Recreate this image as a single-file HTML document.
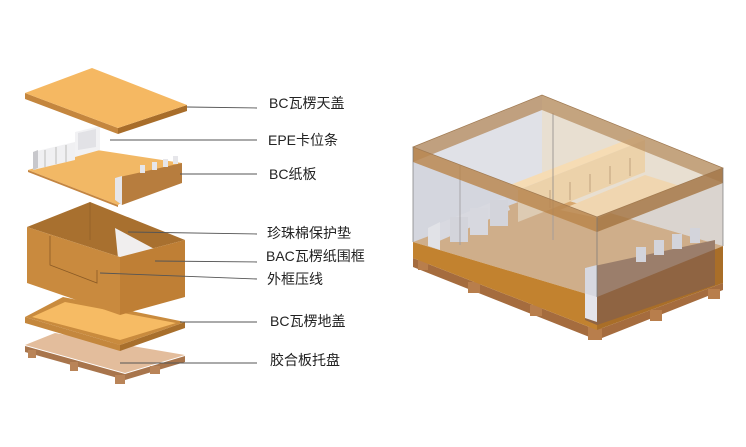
<!DOCTYPE html>
<html><head><meta charset="utf-8"><style>
html,body{margin:0;padding:0;background:#fff;}
svg{display:block;}
text{font-family:"Liberation Sans","Noto Sans CJK SC",sans-serif;font-size:14px;fill:#222;}
</style></head><body>
<svg width="746" height="447" viewBox="0 0 746 447" xmlns="http://www.w3.org/2000/svg">
<!-- LEFT: pallet -->
<polygon points="25,352 125,380 185,362 185,356 125,374 25,346" fill="#a8754c"/>
<rect x="28" y="350" width="8" height="8" fill="#b98458"/>
<rect x="70" y="362" width="8" height="9" fill="#b98458"/>
<rect x="115" y="375" width="10" height="9" fill="#b98458"/>
<rect x="150" y="366" width="10" height="8" fill="#b98458"/>
<polygon points="25,345 55,333 185,355 125,373" fill="#e3bd9c"/>
<!-- bottom tray -->
<polygon points="25,317 120,345 120,351 25,323" fill="#c4873d"/>
<polygon points="120,345 185,322 185,328 120,351" fill="#a86f2c"/>
<polygon points="25,317 63,297 185,322 120,345" fill="#c98b3e"/>
<polygon points="32,317 65,302 176,323 120,340" fill="#f6bb64"/>
<!-- box -->
<polygon points="27,227 90,202 185,240 120,257" fill="#a8702f"/>
<polygon points="115,228 160,252 118,258" fill="#f0eeee"/>
<polygon points="27,227 120,257 120,315 27,283" fill="#c98a3e"/>
<polygon points="120,257 185,240 185,297 120,315" fill="#bf7f35"/>
<polyline points="50,236 50,265 97,283 97,270" fill="none" stroke="#8a5a25" stroke-width="0.8"/>
<line x1="90" y1="202" x2="90" y2="240" stroke="#8a5a25" stroke-width="0.6"/>
<!-- board -->
<polygon points="28,170 97,150 182,163 118,205" fill="#f2b865"/>
<polygon points="28,170 118,205 118,207 28,172" fill="#c48540"/>
<!-- EPE blocks -->
<polygon points="33,152 75,142 75,160 33,170" fill="#f0f0f2"/>
<polygon points="33,152 38,150 38,168 33,170" fill="#c8c8cc"/>
<polygon points="75,132 100,126 100,150 75,157" fill="#f2f2f4"/>
<polygon points="78,133 96,129 96,147 78,150" fill="#e2e2e6"/>
<line x1="45" y1="150" x2="45" y2="167" stroke="#bbb"/><line x1="56" y1="147" x2="56" y2="164" stroke="#bbb"/><line x1="66" y1="145" x2="66" y2="162" stroke="#bbb"/>
<!-- notched wall -->
<polygon points="115,178 182,163 182,183 122,205 115,200" fill="#b77d3e"/>
<polygon points="115,178 122,176 122,205 115,200" fill="#e6e6ea"/>
<rect x="140" y="165" width="5" height="8" fill="#e6e6ea"/><rect x="152" y="162" width="5" height="8" fill="#e6e6ea"/><rect x="163" y="159" width="5" height="8" fill="#e6e6ea"/><rect x="173" y="156" width="5" height="8" fill="#e6e6ea"/>
<!-- top lid -->
<polygon points="25,93 118,128 118,134 25,99" fill="#c4863e"/>
<polygon points="118,128 187,105 187,111 118,134" fill="#a86d2a"/>
<polygon points="25,93 92,68 187,105 118,128" fill="#f5b862"/>
<!-- leader lines -->
<g stroke="#555" stroke-width="0.9">
<line x1="187" y1="107" x2="257" y2="108"/>
<line x1="110" y1="140" x2="257" y2="140"/>
<line x1="180" y1="174" x2="257" y2="174"/>
<line x1="128" y1="232" x2="257" y2="234"/>
<line x1="155" y1="261" x2="257" y2="262"/>
<line x1="100" y1="273" x2="257" y2="279"/>
<line x1="180" y1="322" x2="257" y2="322"/>
<line x1="120" y1="363" x2="257" y2="363"/>
</g>
<text x="269" y="108">BC瓦楞天盖</text>
<text x="268" y="145">EPE卡位条</text>
<text x="269" y="179">BC纸板</text>
<text x="267" y="238">珍珠棉保护垫</text>
<text x="266" y="261">BAC瓦楞纸围框</text>
<text x="267" y="284">外框压线</text>
<text x="270" y="326">BC瓦楞地盖</text>
<text x="270" y="365">胶合板托盘</text>

<!-- RIGHT: assembled -->
<polygon points="413,258 597,330 723,283 723,290 597,340 413,267" fill="#a56c3e"/>
<rect x="418" y="260" width="10" height="10" fill="#b87e4c"/>
<rect x="468" y="282" width="12" height="11" fill="#b87e4c"/>
<rect x="530" y="305" width="12" height="11" fill="#b87e4c"/>
<rect x="588" y="327" width="14" height="13" fill="#b87e4c"/>
<rect x="650" y="310" width="12" height="11" fill="#b87e4c"/>
<rect x="708" y="289" width="12" height="10" fill="#b87e4c"/>
<polygon points="413,242 542,193 723,246 597,297" fill="#d8a86f"/>
<polygon points="413,242 597,297 597,330 413,258" fill="#c2822f"/>
<polygon points="597,297 723,246 723,283 597,330" fill="#a96e28"/>
<!-- back walls -->
<polygon points="413,147 542,95 542,193 413,242" fill="#c7c9d4" opacity="0.55"/>
<polygon points="542,95 723,168 723,246 542,193" fill="#d6c4ac" opacity="0.55"/>
<!-- EPE left blocks -->
<polygon points="428,228 505,197 510,210 430,245" fill="#e6e6ea"/>
<polygon points="428,228 440,222 440,250 428,246" fill="#f2f2f4"/>
<rect x="450" y="217" width="18" height="25" fill="#dedee3"/>
<rect x="470" y="208" width="18" height="27" fill="#e4e4e8"/>
<rect x="490" y="200" width="18" height="26" fill="#dedee3"/>
<!-- divider -->
<polygon points="510,185 637,136 645,140 518,190" fill="#f6dcb4"/>
<polygon points="518,190 645,140 645,172 518,222" fill="#ecd2aa"/>
<polygon points="560,210 645,175 680,186 598,218" fill="#f0d6b0"/>
<g stroke="#bfa37e" stroke-width="1"><line x1="550" y1="190" x2="550" y2="208"/><line x1="570" y1="182" x2="570" y2="200"/><line x1="590" y1="174" x2="590" y2="192"/><line x1="610" y1="166" x2="610" y2="184"/><line x1="630" y1="158" x2="630" y2="176"/></g>
<line x1="553" y1="113" x2="553" y2="240" stroke="#8f8a8a" stroke-width="0.8"/>
<polyline points="460,165 460,245" stroke="#8f8a8a" stroke-width="0.8" fill="none"/>
<!-- front right notched wall -->
<polygon points="585,268 715,240 715,285 597,325 585,320" fill="#8f6442"/>
<polygon points="585,268 597,265 597,322 585,318" fill="#e4e4ea"/>
<rect x="636" y="247" width="10" height="15" fill="#dedee3"/>
<rect x="654" y="240" width="10" height="15" fill="#dedee3"/>
<rect x="672" y="234" width="10" height="15" fill="#dedee3"/>
<rect x="690" y="228" width="10" height="15" fill="#dedee3"/>
<!-- front walls transparent -->
<polygon points="413,162 597,232 597,297 413,242" fill="#b8bcc9" opacity="0.3"/>
<polygon points="597,232 723,183 723,246 597,297" fill="#b8bcc9" opacity="0.3"/>
<!-- lid rim -->
<polygon points="413,147 542,95 542,110 413,162" fill="#b58a5c" opacity="0.75"/>
<polygon points="542,95 723,168 723,183 542,110" fill="#b58a5c" opacity="0.7"/>
<polygon points="413,147 597,217 597,232 413,162" fill="#b88751" opacity="0.85"/>
<polygon points="597,217 723,168 723,183 597,232" fill="#a57849" opacity="0.85"/>
<g stroke="#777" stroke-width="0.7" fill="none">
<line x1="413" y1="147" x2="413" y2="242"/>
<line x1="597" y1="217" x2="597" y2="297"/>
<line x1="723" y1="168" x2="723" y2="246"/>
<polygon points="413,147 542,95 723,168 597,217" stroke="#a07a52"/>
</g>
</svg>
</body></html>
